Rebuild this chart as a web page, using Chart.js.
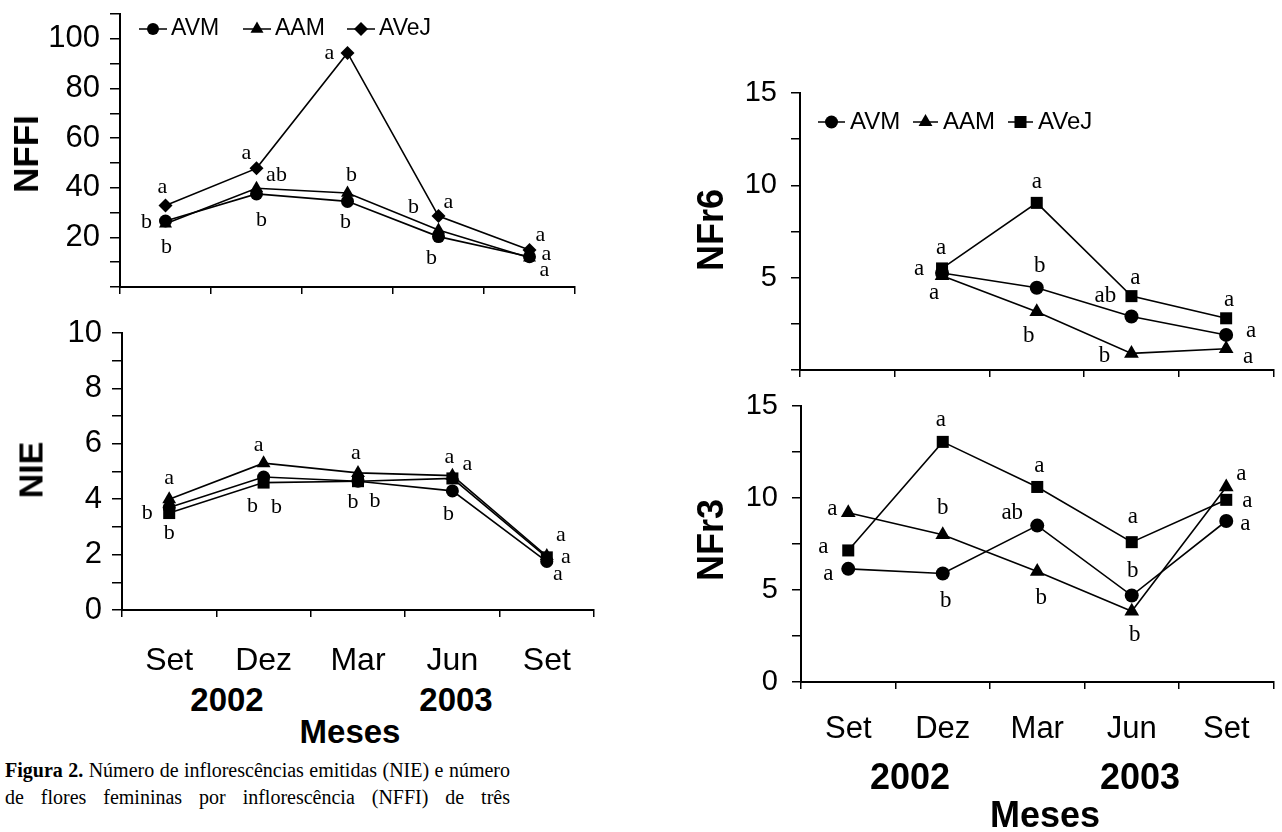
<!DOCTYPE html>
<html>
<head>
<meta charset="utf-8">
<script src="https://cdn.jsdelivr.net/npm/chart.js@4.4.1/dist/chart.umd.min.js"></script>
<style>
  body { margin: 0; background: #fff; width: 1282px; height: 832px; position: relative; overflow: hidden;
         font-family: "Liberation Sans", Arial, sans-serif; color: #000; }
  canvas { position: absolute; }
  .t { position: absolute; transform: translate(-50%, -50%); white-space: nowrap; font-weight: bold; }
  .yt { position: absolute; transform: translate(-50%, -50%) rotate(-90deg); white-space: nowrap; font-weight: bold; }
  .cap { position: absolute; left: 5px; width: 505px; height: 27px; line-height: 27px; font-family: "Liberation Serif", "Times New Roman", serif;
         font-size: 20px; text-align: justify; text-align-last: justify; }
</style>
</head>
<body>
<canvas id="nffi" width="600" height="300" style="left:0;top:0"></canvas>
<canvas id="nie" width="610" height="370" style="left:0;top:310px"></canvas>
<canvas id="nfr6" width="592" height="330" style="left:690px;top:50px"></canvas>
<canvas id="nfr3" width="592" height="375" style="left:690px;top:385px"></canvas>

<div class="yt" style="left:26px;top:154px;font-size:35px">NFFI</div>
<div class="yt" style="left:31px;top:470px;font-size:34px">NIE</div>
<div class="yt" style="left:711px;top:230px;font-size:36px">NFr6</div>
<div class="yt" style="left:711px;top:540px;font-size:36px">NFr3</div>

<div class="t" style="left:227px;top:700px;font-size:33px">2002</div>
<div class="t" style="left:456px;top:700px;font-size:33px">2003</div>
<div class="t" style="left:350px;top:732px;font-size:33px">Meses</div>
<div class="t" style="left:910px;top:777px;font-size:36px">2002</div>
<div class="t" style="left:1140px;top:777px;font-size:36px">2003</div>
<div class="t" style="left:1045px;top:815px;font-size:36px">Meses</div>

<div class="cap" style="top:757px"><b>Figura 2.</b> Número de inflorescências emitidas (NIE) e número</div>
<div class="cap" style="top:784px">de flores femininas por inflorescência (NFFI) de três</div>

<script>
const months = ['Set', 'Dez', 'Mar', 'Jun', 'Set'];
const names = ['AVM', 'AAM', 'AVeJ'];

// NFFI - flores femininas por inflorescencia
const nffiAVM = [26.6, 37.5, 34.5, 20.3, 12.2];
const nffiAAM = [25.5, 39.8, 37.9, 23.0, 11.8];
const nffiAVeJ = [32.8, 47.8, 94.3, 28.6, 14.9];
const nffiLetAVM = ['b', 'b', 'b', 'b', 'a'];
const nffiLetAAM = ['b', 'ab', 'b', 'b', 'a'];
const nffiLetAVeJ = ['a', 'a', 'a', 'a', 'a'];

// NIE - inflorescencias emitidas
const nieAVM = [3.7, 4.8, 4.65, 4.3, 1.75];
const nieAAM = [4.0, 5.3, 4.95, 4.85, 1.95];
const nieAVeJ = [3.5, 4.6, 4.65, 4.75, 1.9];
const nieLetAVM = ['b', 'b', 'b', 'b', 'a'];
const nieLetAAM = ['a', 'a', 'a', 'a', 'a'];
const nieLetAVeJ = ['b', 'b', 'b', 'a', 'a'];

// NFr6
const nfr6AVM = [null, 5.25, 4.45, 2.9, 1.9];
const nfr6AAM = [null, 5.1, 3.15, 0.9, 1.15];
const nfr6AVeJ = [null, 5.5, 9.05, 4.0, 2.8];
const nfr6LetAVM = [null, 'a', 'b', 'ab', 'a'];
const nfr6LetAAM = [null, 'a', 'b', 'b', 'a'];
const nfr6LetAVeJ = [null, 'a', 'a', 'a', 'a'];

// NFr3
const nfr3AVM = [6.15, 5.9, 8.5, 4.7, 8.75];
const nfr3AAM = [9.2, 8.0, 6.0, 3.85, 10.6];
const nfr3AVeJ = [7.15, 13.05, 10.6, 7.6, 9.9];
const nfr3LetAVM = ['a', 'b', 'ab', 'b', 'a'];
const nfr3LetAAM = ['a', 'b', 'b', 'b', 'a'];
const nfr3LetAVeJ = ['a', 'a', 'a', 'a', 'a'];

// where each letter sits relative to its point (px)
const nffiOff = [
  [[-19, 1], [5, 26], [-2, 21], [-7, 22], [17, -3]],
  [[1, 24], [20, -13], [4, -18], [-25, -23], [15, 13]],
  [[-3, -18], [-10, -15], [-18, 0], [10, -14], [11, -15]]
];
const nieOff = [
  [[-22, 6], [13, 30], [-5, 21], [-4, 23], [11, 13]],
  [[0, -21], [-5, -18], [-2, -20], [-3, -18], [14, -21]],
  [[0, 20], [-11, 24], [17, 20], [15, -14], [19, 0]]
];
const nfr6Off = [
  [null, [-23, -4], [3, -22], [-26, -20], [25, -4]],
  [null, [-8, 17], [-8, 24], [-27, 3], [22, 8]],
  [null, [-1, -20], [0, -21], [4, -18], [3, -18]]
];
const nfr3Off = [
  [[-20, 5], [3, 28], [-25, -13], [1, -25], [19, 3]],
  [[-16, -4], [0, -27], [4, 26], [3, 24], [15, -13]],
  [[-25, -3], [-2, -22], [2, -21], [1, -25], [21, 1]]
];

const SANS = "'Liberation Sans', Arial, sans-serif";
const SERIF = "'Liberation Serif', 'Times New Roman', serif";

function lettersPlugin(text, offsets, font) {
  return {
    id: 'letters',
    afterDatasetsDraw(chart) {
      const ctx = chart.ctx;
      ctx.save();
      ctx.font = font;
      ctx.fillStyle = '#000';
      ctx.textAlign = 'center';
      ctx.textBaseline = 'middle';
      text.forEach((arr, i) => {
        const pts = chart.getDatasetMeta(i).data;
        arr.forEach((s, j) => {
          if (!s) return;
          const [dx, dy] = offsets[i][j];
          ctx.fillText(s, pts[j].x + dx, pts[j].y + dy);
        });
      });
      ctx.restore();
    }
  };
}

function legendPlugin(items, y, radius, font, gap) {
  return {
    id: 'keyLegend',
    afterDraw(chart) {
      const ctx = chart.ctx;
      ctx.save();
      ctx.font = font;
      ctx.textBaseline = 'middle';
      ctx.textAlign = 'left';
      chart.data.datasets.forEach((ds, i) => {
        const [x1, x2] = items[i];
        ctx.strokeStyle = '#000';
        ctx.lineWidth = 1.5;
        ctx.beginPath();
        ctx.moveTo(x1, y);
        ctx.lineTo(x2, y);
        ctx.stroke();
        ctx.fillStyle = '#000';
        Chart.helpers.drawPoint(ctx, { pointStyle: ds.pointStyle, radius: radius[i], rotation: 0, borderWidth: 0 }, (x1 + x2) / 2, y);
        ctx.fillText(ds.label, x2 + gap, y);
      });
      ctx.restore();
    }
  };
}

function noPad(s) {
  s.paddingTop = 0;
  s.paddingBottom = 0;
  s.paddingLeft = 0;
  s.paddingRight = 0;
}

function panel(id, o) {
  const styles = ['circle', 'triangle', o.fourth];
  const plugins = [lettersPlugin(o.letters, o.offsets, o.letterFont)];
  if (o.legend) plugins.push(o.legend);
  return new Chart(document.getElementById(id), {
    type: 'line',
    data: {
      labels: months,
      datasets: o.series.map((d, i) => ({
        label: names[i],
        data: d,
        pointStyle: styles[i],
        pointRadius: o.radius[i],
        pointBackgroundColor: '#000',
        pointBorderColor: '#000',
        pointBorderWidth: 0,
        borderColor: '#000',
        borderWidth: 1.6,
        tension: 0,
        spanGaps: false,
        clip: false
      }))
    },
    options: {
      responsive: false,
      animation: false,
      events: [],
      layout: { padding: o.pad },
      plugins: { legend: { display: false }, tooltip: { enabled: false } },
      scales: {
        x: {
          offset: true,
          grid: { offset: true, drawOnChartArea: false, drawTicks: true, tickLength: 7, color: '#000', lineWidth: 1.5 },
          border: { color: '#000', width: 2 },
          ticks: { display: o.showMonths, color: '#000', font: { family: SANS, size: o.monthSize }, padding: o.monthPad, maxRotation: 0, autoSkip: false },
          afterFit: s => { s.height = o.xh; noPad(s); }
        },
        y: {
          min: 0,
          max: o.max,
          grid: { drawOnChartArea: false, drawTicks: true, tickLength: o.yTick, color: '#000', lineWidth: 1.5 },
          border: { color: '#000', width: 2 },
          ticks: {
            stepSize: o.step, autoSkip: false, color: '#000', padding: o.yPad,
            font: { family: SANS, size: o.tickSize },
            callback: v => (v % o.labelEvery === 0 && (o.showZero || v !== 0)) ? v : ''
          },
          afterFit: s => { s.width = o.yw; noPad(s); }
        }
      }
    },
    plugins
  });
}

panel('nffi', {
  series: [nffiAVM, nffiAAM, nffiAVeJ],
  letters: [nffiLetAVM, nffiLetAAM, nffiLetAVeJ],
  offsets: nffiOff,
  letterFont: '22px ' + SERIF,
  fourth: 'rectRot',
  radius: [6.5, 7.5, 7],
  pad: { left: 0, right: 25, top: 14, bottom: 0 },
  xh: 13, yw: 120,
  max: 110, step: 10, labelEvery: 20, showZero: false,
  tickSize: 31, yTick: 10, yPad: 10,
  showMonths: false,
  legend: legendPlugin([[139, 167], [243, 271], [347, 375]], 29, [6, 7.5, 7], '23px ' + SANS, 4)
});

panel('nie', {
  series: [nieAVM, nieAAM, nieAVeJ],
  letters: [nieLetAVM, nieLetAAM, nieLetAVeJ],
  offsets: nieOff,
  letterFont: '22px ' + SERIF,
  fourth: 'rect',
  radius: [6.5, 8, 8.5],
  pad: { left: 0, right: 16, top: 23, bottom: 0 },
  xh: 70, yw: 122,
  max: 10, step: 1, labelEvery: 2, showZero: true,
  tickSize: 31, yTick: 10, yPad: 10,
  showMonths: true, monthSize: 32, monthPad: 25
});

panel('nfr6', {
  series: [nfr6AVM, nfr6AAM, nfr6AVeJ],
  letters: [nfr6LetAVM, nfr6LetAAM, nfr6LetAVeJ],
  offsets: nfr6Off,
  letterFont: '23px ' + SERIF,
  fourth: 'rect',
  radius: [7, 8.5, 8.5],
  pad: { left: 0, right: 3, top: 43, bottom: 0 },
  xh: 10, yw: 110,
  max: 15, step: 2.5, labelEvery: 5, showZero: false,
  tickSize: 29, yTick: 9, yPad: 14,
  showMonths: false,
  legend: legendPlugin([[128, 155], [223, 248], [318, 343]], 72, [6.5, 8, 8.5], '24px ' + SANS, 5)
});

panel('nfr3', {
  series: [nfr3AVM, nfr3AAM, nfr3AVeJ],
  letters: [nfr3LetAVM, nfr3LetAAM, nfr3LetAVeJ],
  offsets: nfr3Off,
  letterFont: '23px ' + SERIF,
  fourth: 'rect',
  radius: [7, 8.5, 8.5],
  pad: { left: 0, right: 2, top: 21, bottom: 0 },
  xh: 78, yw: 111,
  max: 15, step: 2.5, labelEvery: 5, showZero: true,
  tickSize: 29, yTick: 9, yPad: 14,
  showMonths: true, monthSize: 31, monthPad: 22
});
</script>
</body>
</html>
